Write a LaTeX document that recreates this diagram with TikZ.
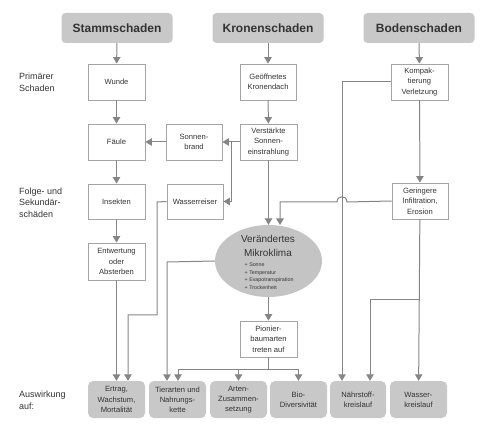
\documentclass[tikz,border=0pt]{standalone}
\usepackage{fontspec}
\setmainfont{Liberation Sans}
\usetikzlibrary{arrows.meta,shapes.geometric}
\definecolor{hdrfill}{HTML}{C8C8C8}
\definecolor{boxline}{HTML}{A4A4A4}
\definecolor{conn}{HTML}{858585}
\definecolor{txt}{HTML}{333333}
\definecolor{ellfill}{HTML}{C4C4C4}
\tikzset{
  hdr/.style={fill=hdrfill, draw=none, rounded corners=4pt, minimum width=111pt, minimum height=30pt,
    font=\fontsize{12}{14}\selectfont\bfseries, text=txt},
  sbox/.style={draw=boxline, line width=0.9pt, fill=white, minimum width=57pt, minimum height=36pt,
    inner sep=1pt, align=center, font=\fontsize{7.6}{10.3}\selectfont, text=txt},
  outbox/.style={fill=hdrfill, draw=none, rounded corners=5pt, minimum width=57pt, minimum height=37pt,
    inner sep=1pt, align=center, font=\fontsize{7.6}{10.1}\selectfont, text=txt},
  lbl/.style={align=left, anchor=west, font=\fontsize{9}{11.6}\selectfont, text=txt, inner sep=0pt},
  arr/.style={draw=conn, line width=1pt, -{Triangle[width=7.5pt,length=6.5pt]}},
  ln/.style={draw=conn, line width=1pt},
}
\begin{document}
\begin{tikzpicture}[x=1pt,y=-1pt]
\useasboundingbox (0,0) rectangle (480,433);
% headers
\node[hdr] (hS) at (117,28) {Stammschaden};
\node[hdr] (hK) at (268,28) {Kronenschaden};
\node[hdr] (hB) at (419,28) {Bodenschaden};
% left labels
\node[lbl] (l1) at (19,82.5) {Primärer\\Schaden};
\node[lbl] (l2) at (19,202.5) {Folge- und\\Sekundär-\\schäden};
\node[lbl] (l3) at (19,400) {Auswirkung\\auf:};
% boxes
\node[sbox] (wunde) at (116.5,82) {Wunde};
\node[sbox, minimum width=56pt] (kron) at (268,82) {Geöffnetes\\Kronendach};
\node[sbox] (kompak) at (419.5,82) {Kompak-\\tierung\\Verletzung};
\node[sbox] (faeule) at (116.5,142) {Fäule};
\node[sbox, minimum width=56pt] (sbrand) at (194,142) {Sonnen-\\brand};
\node[sbox] (verst) at (268.5,142) {Verstärkte\\Sonnen-\\einstrahlung};
\node[sbox, minimum height=35pt] (insekten) at (116.5,201.5) {Insekten};
\node[sbox, minimum width=56pt, minimum height=35pt] (wreiser) at (195,201.5) {Wasserreiser};
\node[sbox, minimum width=56pt] (gering) at (420,201) {Geringere\\Infiltration,\\Erosion};
\node[sbox, minimum height=37pt] (entw) at (116.5,261.5) {Entwertung\\oder\\Absterben};
\node[ellipse, fill=ellfill, draw=none, minimum width=107pt, minimum height=72pt, inner sep=0pt] (ell) at (268.5,261) {};
\node[align=center, font=\fontsize{10}{13.5}\selectfont, text=txt, inner sep=0pt] (elltitle) at (268,246) {Verändertes\\Mikroklima};
\node[align=left, anchor=west, font=\fontsize{5.3}{7.6}\selectfont, text=txt, inner sep=0pt] (elllist) at (244.5,276) {+ Sonne\\+ Temperatur\\+ Evapotranspiration\\+ Trockenheit};
\node[sbox] (pionier) at (268.5,339) {Pionier-\\baumarten\\treten auf};
% output boxes
\node[outbox] (ertrag) at (116.5,399.5) {Ertrag,\\Wachstum,\\Mortalität};
\node[outbox] (tier) at (177.5,399.5) {Tierarten und\\Nahrungs-\\kette};
\node[outbox] (arten) at (238.5,399.5) {Arten-\\Zusammen-\\setzung};
\node[outbox] (bio) at (298.5,399.5) {Bio-\\Diversivität};
\node[outbox, minimum width=56pt] (naehr) at (358,399.5) {Nährstoff-\\kreislauf};
\node[outbox] (wasser) at (418.5,399.5) {Wasser-\\kreislauf};
% coordinates
\coordinate (sj) at (231,142);
\coordinate (wr1) at (157,202);
\coordinate (wr2) at (157,315);
\coordinate (wr3) at (128,315);
\coordinate (hopR) at (347,202);
\coordinate (hopL) at (337,202);
\coordinate (gl) at (280,202);
\coordinate (kv) at (342,82);
\coordinate (gb) at (420,300);
\coordinate (gb2) at (370,300);
\coordinate (el) at (167,262);
\coordinate (pj) at (268.5,369);
\coordinate (pL) at (178,369);
\coordinate (pM) at (238.5,369);
\coordinate (pR) at (298.5,369);
% connectors
\draw[arr] (hS) -- (wunde);
\draw[arr] (hK) -- (kron);
\draw[arr] (hB) -- (kompak);
\draw[arr] (wunde) -- (faeule);
\draw[arr] (faeule) -- (insekten);
\draw[arr] (insekten) -- (entw);
\draw[arr] (entw) -- (ertrag);
\draw[arr] (kron) -- (verst);
\draw[arr] (verst.west) -- (sbrand.east);
\draw[arr] (sbrand) -- (faeule);
\draw[arr] (sj) |- (wreiser.east);
\draw[arr] (wreiser.west) -- (wr1) -- (wr2) -- (wr3) -- (wr3 |- ertrag.north);
\draw[arr] (verst) -- (ell);
\draw[arr] (gering.west) -- (hopR) .. controls (347,195) and (337,195) .. (hopL) -- (gl) -- ++(0,23);
\draw[arr] (kompak.west) -- (kv) -- (kv |- naehr.north);
\draw[arr] (kompak) -- (gering);
\draw[arr] (gering) -- (wasser);
\draw[arr] (gb) -- (gb2) -- (gb2 |- naehr.north);
\draw[arr] (ell.west) -- (el) -- (el |- tier.north);
\draw[arr] (ell) -- (pionier);
\draw[ln] (pionier.south) -- (pj);
\draw[ln] (pL) -- (pR);
\draw[arr] (pL) -- (pL |- tier.north);
\draw[arr] (pM) -- (arten);
\draw[arr] (pR) -- (bio);
\end{tikzpicture}
\end{document}
